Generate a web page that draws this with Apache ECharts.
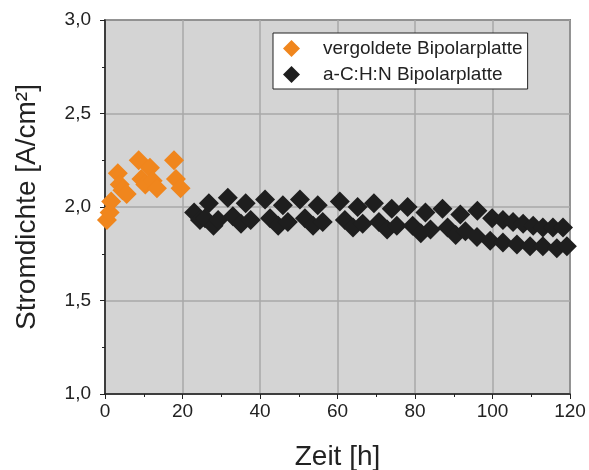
<!DOCTYPE html>
<html>
<head>
<meta charset="utf-8">
<script src="https://cdn.jsdelivr.net/npm/echarts@6/dist/echarts.min.js"></script>
<style>
  html, body { margin: 0; padding: 0; background: #fff; }
  #chart { width: 589px; height: 470px; }
</style>
</head>
<body>
<div id="chart"></div>
<script>
// readings from the plot: [time h, current density A/cm²]
const goldPoints = [
  [0.5, 1.93], [1.2, 1.97], [1.6, 2.03], [3.3, 2.18], [3.8, 2.12],
  [4.5, 2.09], [5.6, 2.07], [8.7, 2.25], [9.4, 2.15], [10.4, 2.12],
  [11.6, 2.21], [12.3, 2.14], [13.4, 2.10], [17.8, 2.25], [18.3, 2.15],
  [19.5, 2.10]
];
const carbonPoints = [
  [23.0, 1.97], [24.5, 1.93], [26.8, 2.02], [25.8, 1.94], [28.0, 1.90], [29.2, 1.93],
  [31.7, 2.05], [36.3, 2.02], [33.0, 1.95], [35.1, 1.91], [37.6, 1.93],
  [41.3, 2.04], [45.9, 2.01], [42.6, 1.94], [44.7, 1.90], [47.2, 1.92],
  [50.3, 2.04], [54.9, 2.01], [51.6, 1.94], [53.7, 1.90], [56.2, 1.92],
  [60.6, 2.03], [65.2, 2.00], [61.9, 1.93], [64.0, 1.89], [66.5, 1.91],
  [69.4, 2.02], [74.0, 1.99], [70.7, 1.92], [72.8, 1.88], [75.3, 1.90],
  [78.1, 2.00], [82.7, 1.97], [79.4, 1.90], [81.5, 1.86], [84.0, 1.88],
  [87.1, 1.99], [91.7, 1.96], [88.4, 1.89], [90.5, 1.85], [93.0, 1.87],
  [96.1, 1.98], [99.9, 1.94], [102.7, 1.93], [105.3, 1.92], [107.9, 1.91],
  [110.5, 1.90], [113.0, 1.89], [115.6, 1.89], [118.2, 1.89],
  [96.0, 1.84], [99.4, 1.82], [102.7, 1.81], [106.3, 1.80], [109.7, 1.79],
  [113.0, 1.79], [116.6, 1.78], [119.2, 1.79]
];
const seriesNames = ["vergoldete Bipolarplatte", "a-C:H:N Bipolarplatte"];

const font = "Liberation Sans";
const chart = echarts.init(document.getElementById("chart"));

chart.setOption({
  animation: false,
  textStyle: { fontFamily: font },
  grid: {
    left: 105,
    right: 19,
    top: 20,
    bottom: 76,
    outerBoundsMode: "none",
    show: true,
    backgroundColor: "#d4d4d4",
    borderColor: "#222",
    borderWidth: 1.5,
  },
  legend: {
    orient: "vertical",
    left: 273,
    top: 33,
    padding: [6, 5, 5, 10],
    itemGap: 7,
    itemWidth: 17,
    itemHeight: 17,
    backgroundColor: "#fff",
    borderColor: "#222",
    borderWidth: 1,
    borderRadius: 0,
    textStyle: { fontFamily: font, fontSize: 19, color: "#222", padding: [0, 0, 0, 18] },
    data: seriesNames.map((n) => ({ name: n, icon: "diamond" })),
  },
  xAxis: {
    type: "value",
    min: 0,
    max: 120,
    interval: 20,
    name: "Zeit [h]",
    nameLocation: "middle",
    nameGap: 49,
    nameTextStyle: { fontSize: 28, color: "#222", fontFamily: font },
    axisLine: { lineStyle: { color: "#222", width: 1.5 } },
    axisTick: { show: true, length: 5, lineStyle: { color: "#222" } },
    minorTick: { show: true, splitNumber: 2, length: 3, lineStyle: { color: "#222" } },
    axisLabel: { fontSize: 19, color: "#222", margin: 8 },
    splitLine: { show: true, lineStyle: { color: "#a8a8a8", width: 1.5 } },
  },
  yAxis: {
    type: "value",
    min: 1,
    max: 3,
    interval: 0.5,
    name: "Stromdichte [A/cm²]",
    nameLocation: "middle",
    nameGap: 64,
    nameTextStyle: { fontSize: 28, color: "#222", fontFamily: font },
    axisLine: { show: true, lineStyle: { color: "#222", width: 1.5 } },
    axisTick: { show: true, length: 5, lineStyle: { color: "#222" } },
    minorTick: { show: true, splitNumber: 2, length: 3, lineStyle: { color: "#222" } },
    axisLabel: {
      fontSize: 19,
      color: "#222",
      margin: 14,
      formatter: (v) => v.toFixed(1).replace(".", ","),
    },
    splitLine: { show: true, lineStyle: { color: "#a8a8a8", width: 1.5 } },
  },
  series: [
    {
      name: seriesNames[0],
      type: "scatter",
      symbol: "diamond",
      symbolSize: 20,
      itemStyle: { color: "#f0861d", opacity: 1 },
      data: goldPoints,
    },
    {
      name: seriesNames[1],
      type: "scatter",
      symbol: "diamond",
      symbolSize: 20,
      itemStyle: { color: "#1e1e1e", opacity: 1 },
      data: carbonPoints,
    },
  ],
});
</script>
</body>
</html>
